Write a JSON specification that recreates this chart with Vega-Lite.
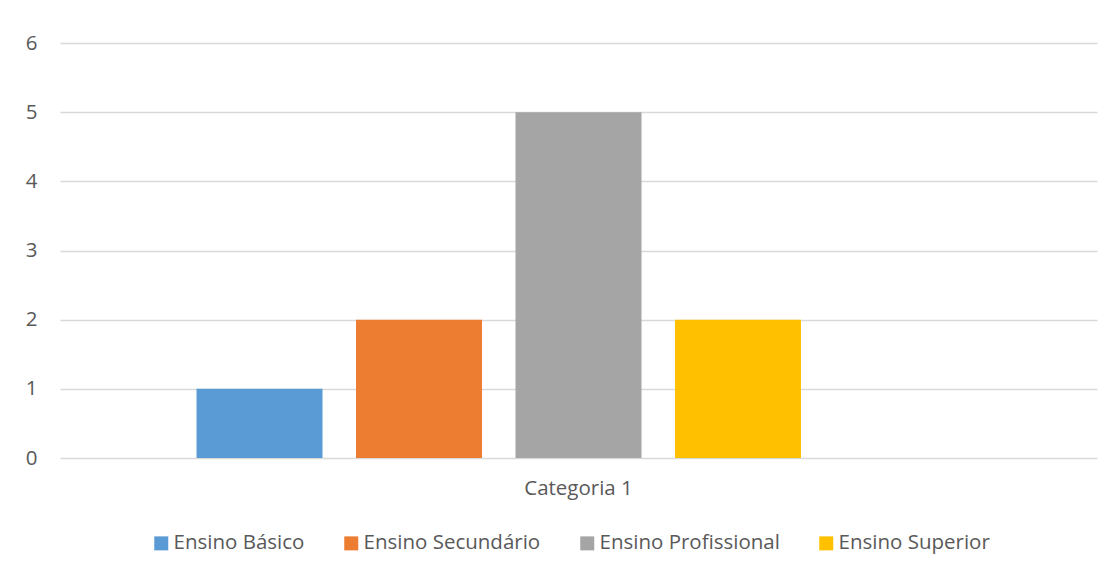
{
  "$schema": "https://vega.github.io/schema/vega-lite/v6.json",
  "autosize": "none",
  "width": 1037,
  "height": 415,
  "padding": {"left": 60, "top": 43, "right": 16, "bottom": 116},
  "background": "white",
  "config": {
    "view": {"stroke": null},
    "font": "Open Sans",
    "axis": {"labelFont": "Open Sans", "labelColor": "#595959", "labelFontSize": 20.5, "titleColor": "#595959"},
    "legend": {"labelFont": "Open Sans", "labelColor": "#595959", "labelFontSize": 20.5, "labelLimit": 400}
  },
  "data": {
    "values": [
      {"categoria": "Categoria 1", "serie": "Ensino Básico", "valor": 1},
      {"categoria": "Categoria 1", "serie": "Ensino Secundário", "valor": 2},
      {"categoria": "Categoria 1", "serie": "Ensino Profissional", "valor": 5},
      {"categoria": "Categoria 1", "serie": "Ensino Superior", "valor": 2}
    ]
  },
  "mark": {"type": "bar"},
  "encoding": {
    "x": {
      "field": "categoria",
      "type": "nominal",
      "scale": {"paddingInner": 0, "paddingOuter": 0},
      "axis": {"title": null, "labelAngle": 0, "domain": false, "ticks": false, "labelPadding": 20}
    },
    "xOffset": {
      "field": "serie",
      "type": "nominal",
      "scale": {"domain": ["Ensino Básico", "Ensino Secundário", "Ensino Profissional", "Ensino Superior", " "], "paddingInner": 0.21, "paddingOuter": 0.856}
    },
    "y": {
      "field": "valor",
      "type": "quantitative",
      "scale": {"domain": [0, 6], "nice": false},
      "axis": {"title": null, "values": [0, 1, 2, 3, 4, 5, 6], "domain": false, "ticks": false, "labelPadding": 23, "gridColor": "#d9d9d9", "gridWidth": 1.3}
    },
    "color": {
      "field": "serie",
      "type": "nominal",
      "scale": {
        "domain": ["Ensino Básico", "Ensino Secundário", "Ensino Profissional", "Ensino Superior"],
        "range": ["#5B9BD5", "#ED7D31", "#A5A5A5", "#FFC000"]
      },
      "legend": {
        "title": null,
        "orient": "none",
        "direction": "horizontal",
        "legendX": 91,
        "legendY": 490,
        "symbolType": "square",
        "symbolSize": 196,
        "symbolStrokeWidth": 0,
        "labelOffset": 2,
        "columnPadding": 36
      }
    }
  }
}
